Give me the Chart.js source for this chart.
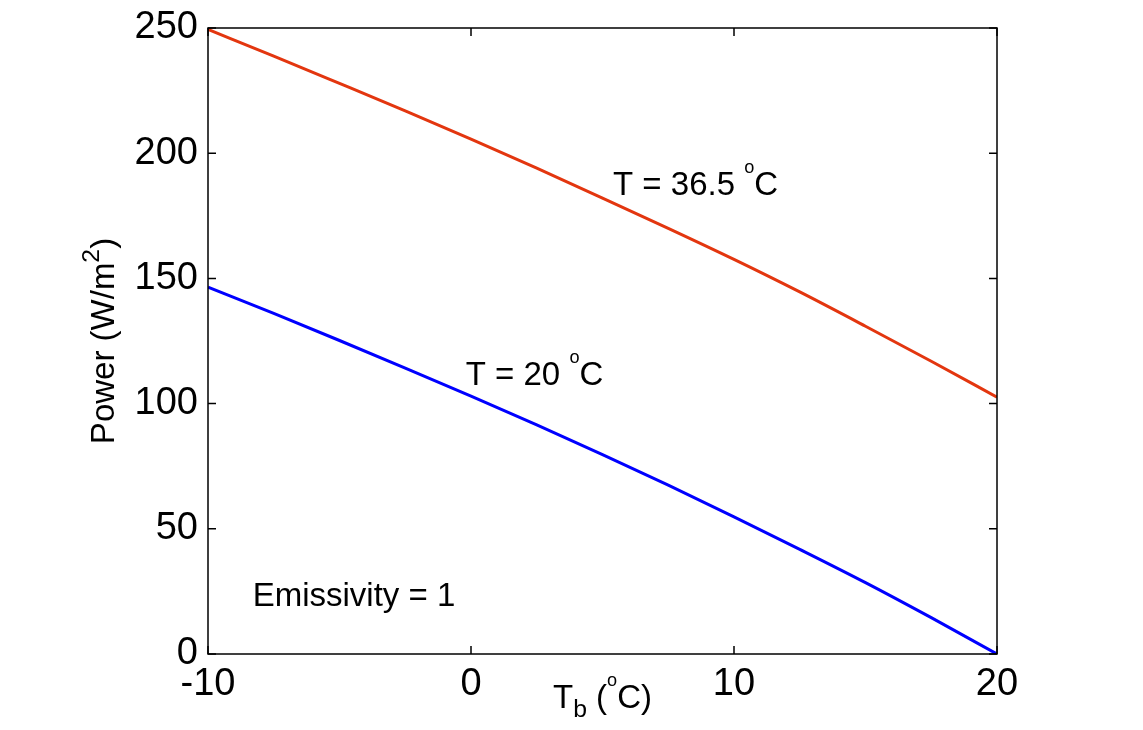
<!DOCTYPE html>
<html>
<head>
<meta charset="utf-8">
<script src="https://cdn.jsdelivr.net/npm/chart.js@4.4.0/dist/chart.umd.min.js"></script>
<style>
  html, body { margin: 0; padding: 0; background: #fff; }
  #wrap { width: 1143px; height: 730px; }
</style>
</head>
<body>
<div id="wrap"><canvas id="myChart" width="1143" height="730"></canvas></div>
<script>
// values
const tb = [-10, -7.5, -5, -2.5, 0, 2.5, 5, 7.5, 10, 12.5, 15, 17.5, 20];
const powerHot = [249.4, 238.8, 227.9, 216.9, 205.6, 194, 182.1, 170, 157.6, 144.6, 130.9, 116.9, 102.6];   // T = 36.5 C
const powerCold = [146.5, 136, 125.2, 114.2, 103, 91.5, 79.6, 67.4, 54.8, 41.8, 28.5, 14.5, 0];           // T = 20 C
const xTicks = [-10, 0, 10, 20];
const yTicks = [0, 50, 100, 150, 200, 250];

const notes = [
  { x: 5.4, y: 187, parts: [['T = 36.5 ', 1, 0], ['o', 0.55, -0.55], ['C', 1, 0]] },
  { x: -0.2, y: 111, parts: [['T = 20 ', 1, 0], ['o', 0.55, -0.55], ['C', 1, 0]] },
  { x: -8.3, y: 23, parts: [['Emissivity = 1', 1, 0]] }
];

const FONT = '"Liberation Sans", Arial, sans-serif';

const toPts = (xs, ys) => xs.map((x, i) => ({ x: x, y: ys[i] }));

// draws a run of text pieces [text, sizeFactor, raise(em)] starting at x, middle y
function richText(ctx, x, y, parts, size) {
  let cx = x;
  parts.forEach(p => {
    ctx.font = (size * p[1]) + 'px ' + FONT;
    ctx.fillText(p[0], cx, y + p[2] * size);
    cx += ctx.measureText(p[0]).width;
  });
  return cx - x;
}
function richWidth(ctx, parts, size) {
  let w = 0;
  parts.forEach(p => {
    ctx.font = (size * p[1]) + 'px ' + FONT;
    w += ctx.measureText(p[0]).width;
  });
  return w;
}

const matlabBox = {
  id: 'matlabBox',
  afterDraw(chart) {
    const ctx = chart.ctx;
    const a = chart.chartArea;
    const sx = chart.scales.x, sy = chart.scales.y;
    ctx.save();
    ctx.strokeStyle = '#000';
    ctx.lineWidth = 1.5;
    ctx.strokeRect(a.left, a.top, a.right - a.left, a.bottom - a.top);
    // inward ticks on all four sides
    const tl = 8;
    ctx.beginPath();
    xTicks.forEach(v => {
      const px = sx.getPixelForValue(v);
      ctx.moveTo(px, a.bottom); ctx.lineTo(px, a.bottom - tl);
      ctx.moveTo(px, a.top); ctx.lineTo(px, a.top + tl);
    });
    yTicks.forEach(v => {
      const py = sy.getPixelForValue(v);
      ctx.moveTo(a.left, py); ctx.lineTo(a.left + tl, py);
      ctx.moveTo(a.right, py); ctx.lineTo(a.right - tl, py);
    });
    ctx.stroke();

    ctx.fillStyle = '#000';
    ctx.textBaseline = 'middle';
    ctx.textAlign = 'left';
    notes.forEach(n => {
      richText(ctx, sx.getPixelForValue(n.x), sy.getPixelForValue(n.y), n.parts, 33);
    });

    // x axis title: T_b (oC)
    const xParts = [['T', 1, 0], ['b', 0.75, 0.35], [' (', 1, 0], ['o', 0.55, -0.55], ['C)', 1, 0]];
    const w = richWidth(ctx, xParts, 33);
    richText(ctx, (a.left + a.right) / 2 - w / 2, 699, xParts, 33);

    // y axis title: Power (W/m^2)
    const yParts = [['Power (W/m', 1, 0], ['2', 0.75, -0.4], [')', 1, 0]];
    const h = richWidth(ctx, yParts, 33);
    ctx.translate(105, (a.top + a.bottom) / 2);
    ctx.rotate(-Math.PI / 2);
    richText(ctx, -h / 2, 0, yParts, 33);
    ctx.restore();
  }
};

const data = {
  datasets: [
    {
      label: 'T = 36.5 C',
      data: toPts(tb, powerHot),
      borderColor: '#E3360F',
      borderWidth: 3,
      pointRadius: 0,
      showLine: true,
      cubicInterpolationMode: 'monotone'
    },
    {
      label: 'T = 20 C',
      data: toPts(tb, powerCold),
      borderColor: '#0000FF',
      borderWidth: 3,
      pointRadius: 0,
      showLine: true,
      cubicInterpolationMode: 'monotone'
    }
  ]
};

const config = {
  type: 'scatter',
  data: data,
  options: {
    responsive: false,
    animation: false,
    layout: { padding: { left: 0, top: 28, right: 146, bottom: 0 } },
    plugins: { legend: { display: false }, tooltip: { enabled: false } },
    scales: {
      x: {
        type: 'linear',
        min: -10, max: 20,
        afterBuildTicks: s => { s.ticks = xTicks.map(v => ({ value: v })); },
        afterFit: s => { s.height = 76; s.paddingLeft = 0; s.paddingRight = 0; },
        grid: { display: false, drawTicks: false },
        border: { display: false },
        ticks: { color: '#000', padding: 8, font: { family: FONT, size: 38 } }
      },
      y: {
        type: 'linear',
        min: 0, max: 250,
        afterBuildTicks: s => { s.ticks = yTicks.map(v => ({ value: v })); },
        afterFit: s => { s.width = 208; s.paddingTop = 0; s.paddingBottom = 0; },
        grid: { display: false, drawTicks: false },
        border: { display: false },
        ticks: { color: '#000', padding: 10, font: { family: FONT, size: 38 } }
      }
    }
  },
  plugins: [matlabBox]
};

const myChart = new Chart(document.getElementById('myChart'), config);
</script>
</body>
</html>
